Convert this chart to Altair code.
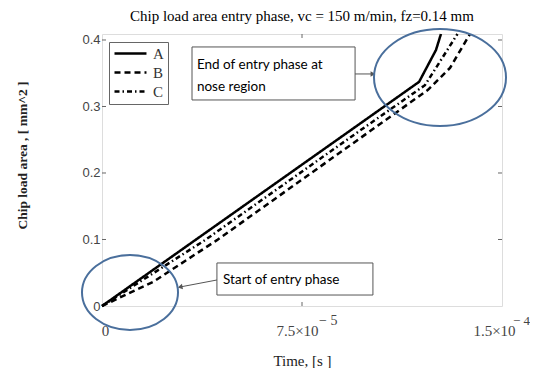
import altair as alt
import pandas as pd

# ---------------- data ----------------
series_names = ["A", "B", "C"]
time_A = [0.0, 1.189e-4, 1.2525e-4, 1.271e-4]
area_A = [0.0, 0.337, 0.385, 0.409]
time_B = [0.0, 1.91e-5, 4.31e-5, 1.2225e-4, 1.305e-4, 1.38e-4]
area_B = [0.0, 0.036, 0.099, 0.325, 0.358, 0.409]
time_C = [0.0, 3.86e-5, 9.86e-5, 1.211e-4, 1.333e-4]
area_C = [0.0, 0.099, 0.269, 0.332, 0.409]

x_tick_values = [0.0, 7.5e-5, 1.5e-4]
x_tick_text = ["0", "7.5×10", "1.5×10"]
x_tick_exponent = ["", "− 5", "− 4"]
y_tick_values = [0.0, 0.1, 0.2, 0.3, 0.4]

title_text = "Chip load area  entry phase, vc = 150 m/min, fz=0.14 mm"
x_title = "Time, [s ]"
y_title = "Chip load area , [ mm^2 ]"

# annotations (in data coordinates)
note_texts = ["End of entry phase at", "nose region", "Start of entry phase"]
note_t = [3.56e-5, 3.56e-5, 4.54e-5]
note_a = [0.3624, 0.3293, 0.0391]
box_t = [3.375e-5, 4.31e-5]
box_t2 = [9.49e-5, 1.016e-4]
box_a = [0.3895, 0.0647]
box_a2 = [0.3098, 0.0165]
arrow_t = [9.49e-5, 4.31e-5]
arrow_t2 = [1.016e-4, 2.93e-5]
arrow_a = [0.3489, 0.0391]
arrow_a2 = [0.3489, 0.0286]
arrow_angle = [0, 169]
ellipse_t = [1.2675e-4, 1.05e-5]
ellipse_a = [0.3436, 0.0203]

# ---------------- tables ----------------
rows = []
for name, ts, ys in zip(series_names, [time_A, time_B, time_C], [area_A, area_B, area_C]):
    for i, (t, a) in enumerate(zip(ts, ys)):
        rows.append({"series": name, "t": t, "area": a, "idx": i})
df = pd.DataFrame(rows)

notes = pd.DataFrame({"t": note_t, "area": note_a, "label": note_texts})
boxes = pd.DataFrame({"t": box_t, "t2": box_t2, "area": box_a, "area2": box_a2})
arrows = pd.DataFrame({"t": arrow_t, "t2": arrow_t2, "area": arrow_a, "area2": arrow_a2,
                       "angle": arrow_angle})
ell1 = pd.DataFrame({"t": ellipse_t[:1], "area": ellipse_a[:1]})
ell2 = pd.DataFrame({"t": ellipse_t[1:], "area": ellipse_a[1:]})
xt = pd.DataFrame({"t": x_tick_values[1:2]})
yt = pd.DataFrame({"area": y_tick_values[1:]})
sup_mid = pd.DataFrame({"t": x_tick_values[1:2], "area": [0.0], "label": x_tick_exponent[1:2]})
sup_end = pd.DataFrame({"t": x_tick_values[2:3], "area": [0.0], "label": x_tick_exponent[2:3]})

x_scale = alt.Scale(domain=[0, 1.5e-4], nice=False, zero=False)
y_scale = alt.Scale(domain=[0, 0.409], nice=False)

label_expr = " : ".join(
    f"datum.value == {v} ? '{s}'" for v, s in zip(x_tick_values[:-1], x_tick_text[:-1])
) + f" : '{x_tick_text[-1]}'"

SERIF = "Liberation Serif"
BLUE = "#4a6f9c"

lines = alt.Chart(df).mark_line(color="black", strokeWidth=2.5).encode(
    x=alt.X("t:Q", scale=x_scale, axis=alt.Axis(
        values=x_tick_values, ticks=False, domain=False, grid=False,
        labelExpr=label_expr, labelFont=SERIF, labelFontSize=15, labelColor="#444",
        labelPadding=24, labelBaseline="middle", labelFlush=False, labelOverlap=False,
        labelOffset={"condition": [{"test": "datum.value == 0", "value": 3},
                                   {"test": "datum.value > 0.0001", "value": -8}],
                     "value": -5},
        title=x_title, titleFont=SERIF, titleFontSize=15, titleFontWeight="normal",
        titleColor="#222", titleY=59, titleBaseline="alphabetic")),
    y=alt.Y("area:Q", scale=y_scale, axis=alt.Axis(
        values=y_tick_values, ticks=False, domain=False, grid=False, format="~g",
        labelFont="Liberation Sans", labelFontSize=13, labelColor="#444", labelPadding=2,
        labelOverlap=False,
        title=y_title, titleFont=SERIF, titleFontSize=13.5, titleFontWeight="bold",
        titleColor="#222", titleX=-80, titleY=121, titleAngle=270, titleBaseline="middle",
        titleAlign="center")),
    strokeDash=alt.StrokeDash("series:N", scale=alt.Scale(
        domain=series_names, range=[[1, 0], [6, 4], [5, 3, 1.5, 3]]),
        legend=alt.Legend(
            title=None, orient="none", legendX=7, legendY=8,
            symbolType="M -1 0 L 4.33 0", symbolSize=144, symbolStrokeWidth=2.5,
            symbolStrokeColor="black", labelOffset=25, labelFont=SERIF,
            labelFontSize=15, labelColor="#333", padding=4, rowPadding=3,
            strokeColor="#666", fillColor="white", cornerRadius=0)),
    order="idx:Q",
)

X = lambda f="t": alt.X(f"{f}:Q", scale=x_scale)
Y = lambda f="area": alt.Y(f"{f}:Q", scale=y_scale)

box_layer = alt.Chart(boxes).mark_rect(fill="white", stroke="#555", strokeWidth=1).encode(
    x=X(), x2="t2:Q", y=Y(), y2="area2:Q")
text_layer = alt.Chart(notes).mark_text(align="left", baseline="middle", font="Lato",
                                        fontSize=13.5, color="black").encode(
    x=X(), y=Y(), text="label:N")
arrow_layer = alt.Chart(arrows).mark_rule(color="#555", strokeWidth=1).encode(
    x=X(), x2="t2:Q", y=Y(), y2="area2:Q")
head_layer = alt.Chart(arrows).mark_point(shape="triangle-right", filled=True, size=30,
                                          color="#555", opacity=1).encode(
    x=X("t2"), y=Y("area2"), angle=alt.Angle("angle:Q", scale=None))
e1 = alt.Chart(ell1).mark_point(shape="M -1 0 A 1 0.735 0 1 0 1 0 A 1 0.735 0 1 0 -1 0",
                                size=17424, filled=False, stroke=BLUE, strokeWidth=2,
                                opacity=1).encode(x=X(), y=Y())
e2 = alt.Chart(ell2).mark_point(shape="M -1 0 A 1 0.78 0 1 0 1 0 A 1 0.78 0 1 0 -1 0",
                                size=9216, filled=False, stroke=BLUE, strokeWidth=2,
                                opacity=1).encode(x=X(), y=Y())
tick_color = "#666"
xt_bottom = alt.Chart(xt).mark_rule(color=tick_color).encode(
    x=X(), y=alt.value(272), y2=alt.value(268))
xt_top = alt.Chart(xt).mark_rule(color=tick_color).encode(
    x=X(), y=alt.value(0), y2=alt.value(4))
yt_left = alt.Chart(yt).mark_rule(color=tick_color).encode(
    y=Y(), x=alt.value(0), x2=alt.value(4))
yt_right = alt.Chart(yt).mark_rule(color=tick_color).encode(
    y=Y(), x=alt.value(396), x2=alt.value(400))
sup_layer1 = alt.Chart(sup_mid).mark_text(align="left", baseline="middle", font=SERIF,
                                          fontSize=14, color="#444", dx=17, dy=15).encode(
    x=X(), y=Y(), text="label:N")
sup_layer2 = alt.Chart(sup_end).mark_text(align="left", baseline="middle", font=SERIF,
                                          fontSize=13, color="#444", dx=11, dy=15).encode(
    x=X(), y=Y(), text="label:N")

chart = alt.layer(
    lines, xt_bottom, xt_top, yt_left, yt_right, box_layer, text_layer,
    arrow_layer, head_layer, e1, e2, sup_layer1, sup_layer2,
).properties(
    width=400, height=272,
    padding={"left": 94, "top": 26, "right": 28, "bottom": 62},
    autosize=alt.AutoSizeParams(type="none"),
    title=alt.Title(title_text, font=SERIF, fontSize=15, fontWeight="normal",
                    color="black", offset=1, frame="group", anchor="middle"),
).configure_view(stroke="#888", strokeWidth=1.2).configure(background="white")

chart.save("out.html", embed_options={"renderer": "svg", "actions": False})
